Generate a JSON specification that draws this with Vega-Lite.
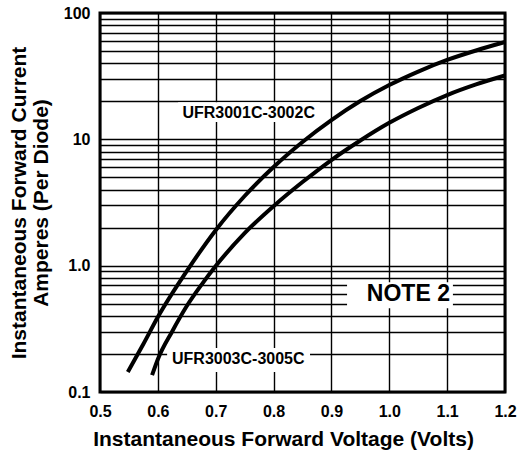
{
  "$schema": "https://vega.github.io/schema/vega-lite/v6.json",
  "autosize": "none",
  "padding": {"left": 100, "top": 13, "right": 15, "bottom": 60},
  "width": 405,
  "height": 379,
  "background": "white",
  "config": {
    "view": {"stroke": "black", "strokeWidth": 3},
    "font": "Liberation Sans",
    "axis": {
      "domain": false,
      "ticks": false,
      "grid": true,
      "gridColor": "black",
      "gridOpacity": 1,
      "gridWidth": 1.4,
      "labelFont": "Liberation Sans",
      "labelFontWeight": "bold",
      "labelFontSize": 16,
      "labelColor": "black",
      "titleFont": "Liberation Sans",
      "titleFontWeight": "bold",
      "titleFontSize": 21,
      "titleColor": "black"
    }
  },
  "datasets": {
    "curves": [
      {"v": 0.548, "i": 0.144, "s": "UFR3001C-3002C"},
      {"v": 0.575, "i": 0.24, "s": "UFR3001C-3002C"},
      {"v": 0.6, "i": 0.392, "s": "UFR3001C-3002C"},
      {"v": 0.65, "i": 0.906, "s": "UFR3001C-3002C"},
      {"v": 0.7, "i": 1.91, "s": "UFR3001C-3002C"},
      {"v": 0.75, "i": 3.56, "s": "UFR3001C-3002C"},
      {"v": 0.8, "i": 6.04, "s": "UFR3001C-3002C"},
      {"v": 0.85, "i": 9.53, "s": "UFR3001C-3002C"},
      {"v": 0.9, "i": 14.2, "s": "UFR3001C-3002C"},
      {"v": 0.95, "i": 20.1, "s": "UFR3001C-3002C"},
      {"v": 1.0, "i": 26.9, "s": "UFR3001C-3002C"},
      {"v": 1.05, "i": 34.4, "s": "UFR3001C-3002C"},
      {"v": 1.1, "i": 42.5, "s": "UFR3001C-3002C"},
      {"v": 1.15, "i": 50.5, "s": "UFR3001C-3002C"},
      {"v": 1.2, "i": 58.9, "s": "UFR3001C-3002C"},
      {"v": 0.59, "i": 0.136, "s": "UFR3003C-3005C"},
      {"v": 0.6, "i": 0.182, "s": "UFR3003C-3005C"},
      {"v": 0.625, "i": 0.303, "s": "UFR3003C-3005C"},
      {"v": 0.65, "i": 0.479, "s": "UFR3003C-3005C"},
      {"v": 0.675, "i": 0.702, "s": "UFR3003C-3005C"},
      {"v": 0.7, "i": 0.993, "s": "UFR3003C-3005C"},
      {"v": 0.75, "i": 1.81, "s": "UFR3003C-3005C"},
      {"v": 0.8, "i": 2.96, "s": "UFR3003C-3005C"},
      {"v": 0.85, "i": 4.59, "s": "UFR3003C-3005C"},
      {"v": 0.9, "i": 6.86, "s": "UFR3003C-3005C"},
      {"v": 0.95, "i": 9.79, "s": "UFR3003C-3005C"},
      {"v": 1.0, "i": 13.5, "s": "UFR3003C-3005C"},
      {"v": 1.05, "i": 17.7, "s": "UFR3003C-3005C"},
      {"v": 1.1, "i": 22.4, "s": "UFR3003C-3005C"},
      {"v": 1.15, "i": 27.2, "s": "UFR3003C-3005C"},
      {"v": 1.2, "i": 32.0, "s": "UFR3003C-3005C"}
    ],
    "labels": [
      {"text": "UFR3001C-3002C", "v": 0.757, "i": 16.3, "v0": 0.635, "v1": 0.88, "i0": 13.7, "i1": 19.7, "big": false},
      {"text": "UFR3003C-3005C", "v": 0.739, "i": 0.182, "v0": 0.616, "v1": 0.863, "i0": 0.144, "i1": 0.223, "big": false},
      {"text": "NOTE 2", "v": 1.033, "i": 0.596, "v0": 0.927, "v1": 1.11, "i0": 0.461, "i1": 0.74, "big": true}
    ]
  },
  "layer": [
    {
      "data": {"name": "labels"},
      "mark": {"type": "rect", "fill": "white", "stroke": null},
      "encoding": {
        "x": {"field": "v0", "type": "quantitative", "scale": {"domain": [0.5, 1.2], "nice": false, "zero": false},
          "axis": {"values": [0.5, 0.6, 0.7, 0.8, 0.9, 1.0, 1.1, 1.2], "format": ".1f", "labelPadding": 11, "labelOverlap": false, "labelFlush": false,
            "title": "Instantaneous Forward Voltage (Volts)", "titleX": 183, "titleY": 53, "titleBaseline": "alphabetic", "titleAlign": "center"}},
        "x2": {"field": "v1"},
        "y": {"field": "i0", "type": "quantitative", "scale": {"type": "log", "domain": [0.1, 100], "nice": false},
          "axis": {"values": [0.1, 0.2, 0.3, 0.4, 0.5, 0.6, 0.7, 0.8, 0.9, 1, 2, 3, 4, 5, 6, 7, 8, 9, 10, 20, 30, 40, 50, 60, 70, 80, 90, 100],
            "labelExpr": "datum.value == 0.1 ? '0.1' : datum.value == 1 ? '1.0' : datum.value == 10 ? '10' : datum.value == 100 ? '100' : ''",
            "labelPadding": 10, "labelOverlap": false, "labelFlush": false,
            "title": ["Instantaneous Forward Current", "Amperes (Per Diode)"],
            "titleX": -75, "titleY": 189.5, "titleAngle": -90, "titleAlign": "center", "titleBaseline": "alphabetic", "titleLineHeight": 22}},
        "y2": {"field": "i1"}
      }
    },
    {
      "data": {"name": "curves"},
      "mark": {"type": "line", "color": "black", "strokeWidth": 4, "interpolate": "monotone"},
      "encoding": {
        "x": {"field": "v", "type": "quantitative"},
        "y": {"field": "i", "type": "quantitative"},
        "detail": {"field": "s"}
      }
    },
    {
      "data": {"name": "labels"},
      "mark": {"type": "text", "font": "Liberation Sans", "fontWeight": "bold", "color": "black", "baseline": "middle", "align": "center"},
      "encoding": {
        "x": {"field": "v", "type": "quantitative"},
        "y": {"field": "i", "type": "quantitative"},
        "text": {"field": "text"},
        "size": {"field": "big", "type": "nominal", "scale": {"domain": [false, true], "range": [16, 23]}, "legend": null}
      }
    }
  ]
}
